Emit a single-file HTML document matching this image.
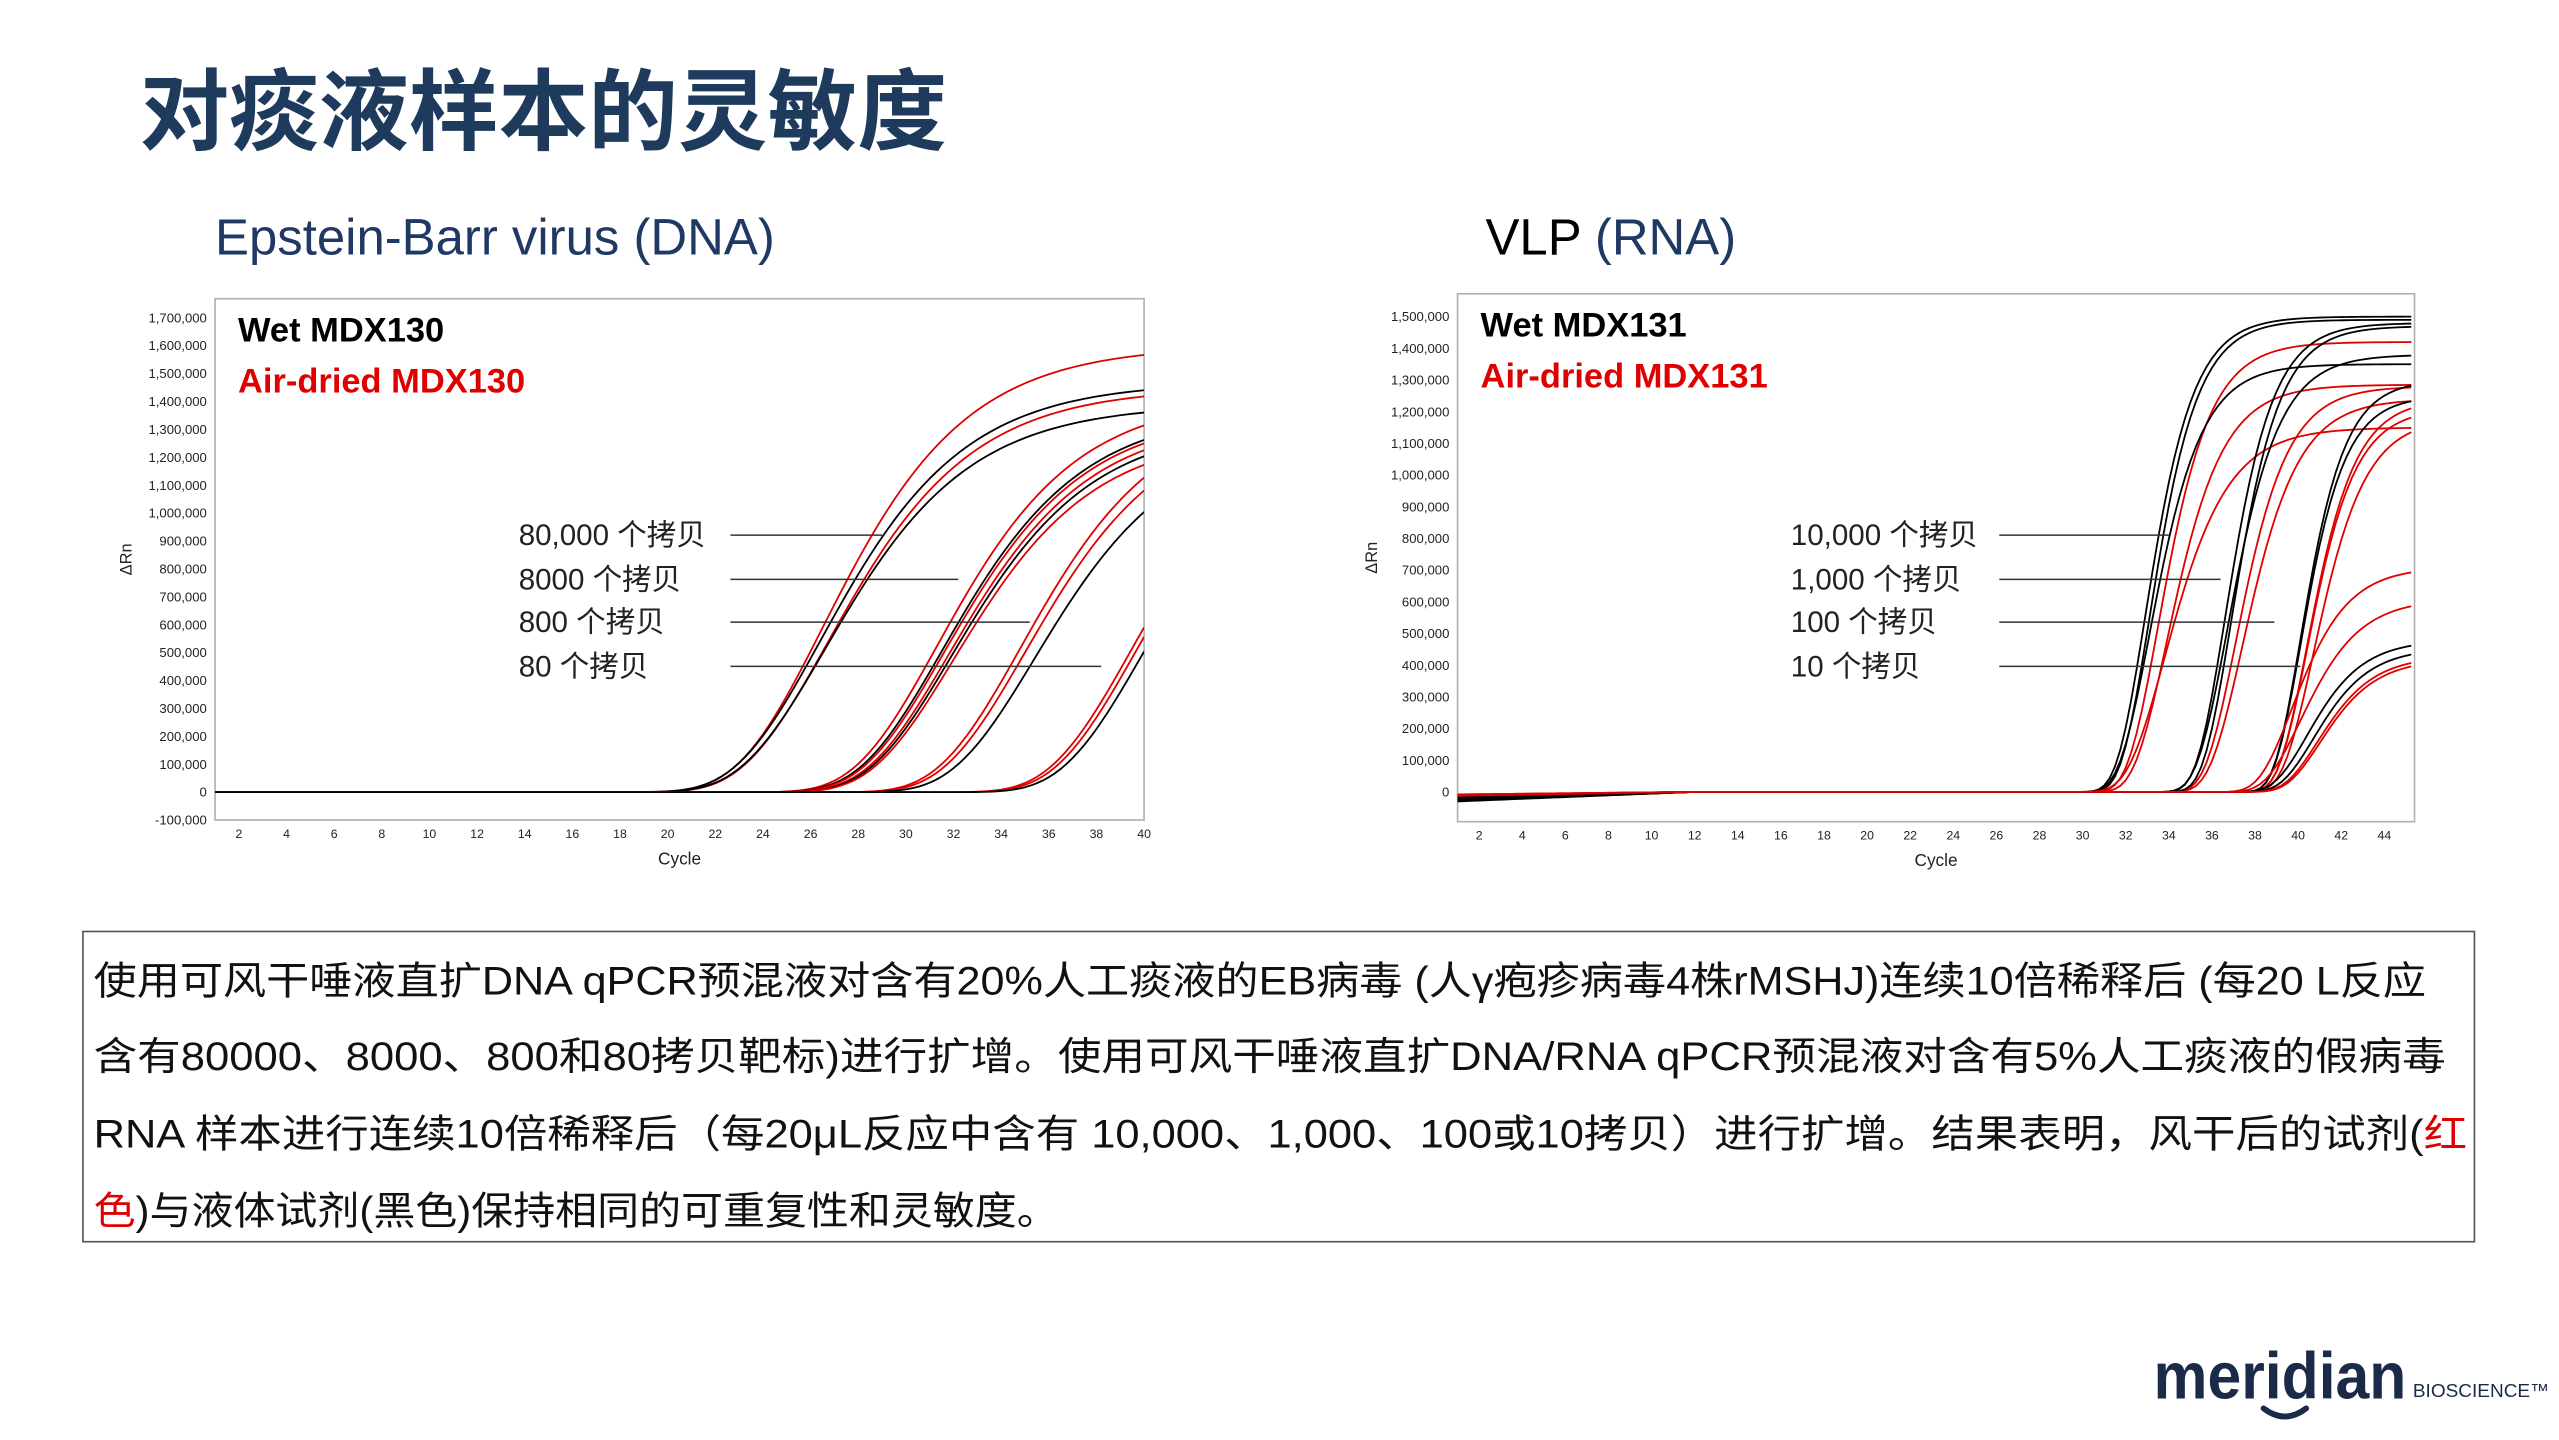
<!DOCTYPE html>
<html><head><meta charset="utf-8"><style>
html,body{margin:0;padding:0;background:#fff;}
svg{display:block;}
text{font-family:"Liberation Sans","Noto Sans CJK SC",sans-serif;}
</style></head><body>
<svg id="page" width="2559" height="1440" viewBox="0 0 1559 877.3" xmlns="http://www.w3.org/2000/svg">
<rect width="1559" height="877.3" fill="#fff"/>
<text x="85" y="87" font-size="54" font-weight="bold" fill="#1e3a5c" textLength="492" lengthAdjust="spacingAndGlyphs">对痰液样本的灵敏度</text>
<text x="131" y="155" font-size="31" fill="#1f3864">Epstein-Barr virus (DNA)</text>
<text x="905" y="155" font-size="31" fill="#000">VLP <tspan fill="#1f3864">(RNA)</tspan></text>

<g id="left"></g>
<g id="right"></g>

<rect x="50.5" y="567.5" width="1457" height="189" fill="none" stroke="#555" stroke-width="1"/>
<g font-size="24" fill="#111">
<text x="57" y="606" textLength="1421" lengthAdjust="spacingAndGlyphs">使用可风干唾液直扩DNA qPCR预混液对含有20%人工痰液的EB病毒 (人γ疱疹病毒4株rMSHJ)连续10倍稀释后 (每20 L反应</text>
<text x="57" y="652" textLength="1433" lengthAdjust="spacingAndGlyphs">含有80000、8000、800和80拷贝靶标)进行扩增。使用可风干唾液直扩DNA/RNA qPCR预混液对含有5%人工痰液的假病毒</text>
<text x="57" y="699" textLength="1446" lengthAdjust="spacingAndGlyphs">RNA 样本进行连续10倍稀释后（每20μL反应中含有 10,000、1,000、100或10拷贝）进行扩增。结果表明，风干后的试剂(<tspan fill="#e00000">红</tspan></text>
<text x="57" y="746" textLength="588" lengthAdjust="spacingAndGlyphs"><tspan fill="#e00000">色</tspan>)与液体试剂(黑色)保持相同的可重复性和灵敏度。</text>
</g>

<g>
<text x="1312" y="852" font-size="40" font-weight="bold" fill="#1b2a47" textLength="154" lengthAdjust="spacingAndGlyphs">meridian</text>
<path d="M1379 858 Q1392 868 1405 858" fill="none" stroke="#1b2a47" stroke-width="3.5" stroke-linecap="round"/>
<text x="1470" y="851" font-size="11.5" fill="#1b2a47" textLength="83" lengthAdjust="spacingAndGlyphs">BIOSCIENCE™</text>
</g>
</svg>
<script>
// ---------- Left chart data (Epstein-Barr DNA) ----------
const leftYTicks = [-100000,0,100000,200000,300000,400000,500000,600000,700000,800000,900000,1000000,1100000,1200000,1300000,1400000,1500000,1600000,1700000];
const leftXTicks = [2,4,6,8,10,12,14,16,18,20,22,24,26,28,30,32,34,36,38,40];
const leftCt      = [26.5,26.4,26.7,26.6, 31.3,31.5,31.6,31.8,31.9,32.0, 34.8,35.0,35.4, 39.5,39.7,40.0];
const leftPlateau = [1600000,1470000,1450000,1390000, 1420000,1370000,1360000,1340000,1320000,1290000, 1400000,1360000,1300000, 1400000,1390000,1370000];
const leftSlope   = [3.5,3.5,3.5,3.5, 3.4,3.4,3.4,3.4,3.4,3.4, 3.4,3.4,3.4, 3.4,3.4,3.4];
const leftColor   = ['r','k','r','k', 'r','k','r','r','k','r', 'r','r','k', 'r','r','k'];
const leftBase    = [0,0,0,0, 0,0,0,0,0,0, 0,0,0, 0,0,0];
const leftLabels  = ['80,000 个拷贝','8000 个拷贝','800 个拷贝','80 个拷贝'];
const leftLabelEnds = [29.0,32.2,35.2,38.2];

// ---------- Right chart data (VLP RNA) ----------
const rightYTicks = [0,100000,200000,300000,400000,500000,600000,700000,800000,900000,1000000,1100000,1200000,1300000,1400000,1500000];
const rightXTicks = [2,4,6,8,10,12,14,16,18,20,22,24,26,28,30,32,34,36,38,40,42,44];
const rightCt      = [32.9,33.1,33.5,33.1,33.9,33.8, 36.6,36.7,37.1,37.4,36.9, 40.1,40.1,40.4,40.4,40.7, 39.7,40.1,40.4,40.7,40.9,41.0];
const rightPlateau = [1500000,1490000,1420000,1350000,1285000,1150000, 1480000,1380000,1280000,1240000,1470000, 1300000,1250000,1240000,1210000,1180000, 710000,610000,480000,455000,430000,420000];
const rightSlope   = [1.3,1.3,1.4,1.4,1.5,1.7, 1.3,1.4,1.4,1.5,1.3, 1.2,1.2,1.3,1.3,1.4, 1.5,1.6,1.5,1.5,1.5,1.5];
const rightColor   = ['k','k','r','k','r','r', 'k','k','r','r','k', 'k','k','r','r','r', 'r','r','k','k','r','r'];
const rightBase    = [-30000,-25000,-15000,-20000,-10000,-12000, -28000,-18000,-8000,-10000,-22000, -26000,-20000,-12000,-8000,-10000, -14000,-10000,-24000,-18000,-12000,-9000];
const rightLabels  = ['10,000 个拷贝','1,000 个拷贝','100 个拷贝','10 个拷贝'];
const rightLabelEnds = [34.0,36.4,38.9,40.1];

const NS = 'http://www.w3.org/2000/svg';
function mk(parent, tag, attrs, txt){
  const e = document.createElementNS(NS, tag);
  for (const k in attrs) e.setAttribute(k, attrs[k]);
  if (txt !== undefined) e.textContent = txt;
  parent.appendChild(e);
  return e;
}
function fmt(v){ return v.toLocaleString('en-US'); }

function drawChart(g, cfg){
  const {x0,x1,y0,y1,xmin,xmax,ymin,ymax,yTicks,xTicks,ct,plat,slope,col,base,labels,ends,legend1,legend2,labelX,lineX0,ylabX} = cfg;
  const sx = c => x0 + (c - xmin) / (xmax - xmin) * (x1 - x0);
  const sy = v => y1 - (v - ymin) / (ymax - ymin) * (y1 - y0);
  const frame = mk(g,'rect',{x:x0,y:y0,width:x1-x0,height:y1-y0,fill:'#fff',stroke:'#b0b0b0','stroke-width':1});
  
  
  yTicks.forEach(v=>{
    const t = mk(g,'text',{x:x0-5,y:sy(v)+2.8,'font-size':8,'text-anchor':'end',fill:'#222'},fmt(v));
    
    
  });
  xTicks.forEach(v=>{
    const t = mk(g,'text',{x:sx(v),y:y1+11,'font-size':7.5,'text-anchor':'middle',fill:'#222'},String(v));
    
    
  });
  const xt = mk(g,'text',{x:(x0+x1)/2,y:y1+27,'font-size':10.5,'text-anchor':'middle',fill:'#222'},'Cycle');
  
  
  const yt = mk(g,'text',{x:0,y:0,'font-size':10,'text-anchor':'middle',fill:'#222',transform:`translate(${ylabX},${(y0+y1)/2}) rotate(-90)`},'ΔRn');
  
  
  const clip = 'clip'+Math.round(x0);
  const cp = mk(g,'clipPath',{id:clip});
  mk(cp,'rect',{x:x0,y:y0,width:x1-x0,height:y1-y0});
  const cg = mk(g,'g',{'clip-path':`url(#${clip})`});
  ct.forEach((c,i)=>{
    let d='';
    for(let x=xmin; x<=xmax+0.001; x+=0.25){
      const drift = base[i] * Math.max(0,(12-x)/11);
      const v = plat[i]*Math.exp(-Math.exp(-(x-c)/slope[i])) + drift;
      d += (d?'L':'M') + sx(x).toFixed(2)+','+sy(v).toFixed(2);
    }
    const p = mk(cg,'path',{d:d,fill:'none',stroke:col[i]==='r'?'#e00000':'#000','stroke-width':1.1});
    
    
  });
  const l1 = mk(g,'text',{x:x0+14,y:y0+26,'font-size':21,'font-weight':'bold',fill:'#000'},legend1);
  
  
  const l2 = mk(g,'text',{x:x0+14,y:y0+57,'font-size':21,'font-weight':'bold',fill:'#e00000'},legend2);
  
  
  const rows=[326,353,379,406];
  labels.forEach((s,i)=>{
    const t = mk(g,'text',{x:labelX,y:rows[i]+6,'font-size':18,fill:'#222'},s);
    
    
    const ln = mk(g,'line',{x1:lineX0,x2:sx(ends[i]),y1:rows[i],y2:rows[i],stroke:'#333','stroke-width':0.9});
    
    
  });
}

drawChart(document.getElementById('left'),{
  x0:131,x1:697,y0:182,y1:499.6,xmin:1,xmax:40,ymin:-100000,ymax:1768000,
  yTicks:leftYTicks,xTicks:leftXTicks,ct:leftCt,plat:leftPlateau,slope:leftSlope,col:leftColor,base:leftBase,
  labels:leftLabels,ends:leftLabelEnds,legend1:'Wet MDX130',legend2:'Air-dried MDX130',labelX:316,lineX0:445,ylabX:80
});
drawChart(document.getElementById('right'),{
  x0:888,x1:1471,y0:179,y1:500.6,xmin:1,xmax:45.4,ymin:-94000,ymax:1572000,
  yTicks:rightYTicks,xTicks:rightXTicks,ct:rightCt,plat:rightPlateau,slope:rightSlope,col:rightColor,base:rightBase,
  labels:rightLabels,ends:rightLabelEnds,legend1:'Wet MDX131',legend2:'Air-dried MDX131',labelX:1091,lineX0:1218,ylabX:839
});
</script>
</body></html>
